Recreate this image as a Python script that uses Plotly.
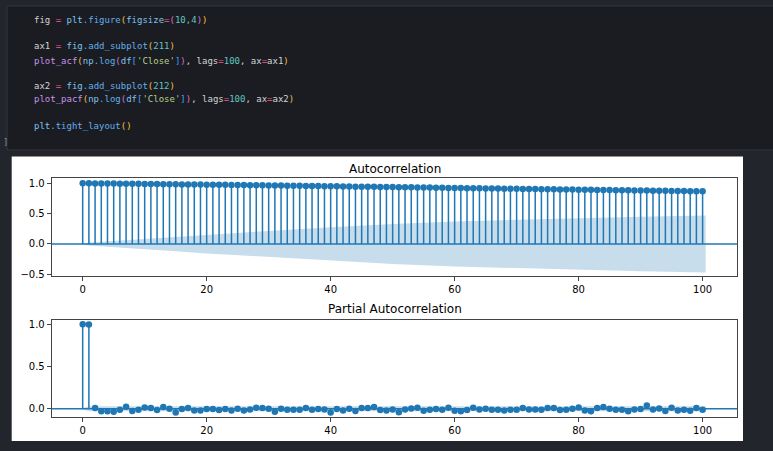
import plotly.graph_objects as go

# values
lags = list(range(101))

acf_vals = [
    1.000, 0.999, 0.997, 0.996, 0.995, 0.994, 0.993, 0.992, 0.991, 0.990,
    0.989, 0.987, 0.986, 0.985, 0.984, 0.983, 0.981, 0.980, 0.979, 0.978,
    0.977, 0.975, 0.974, 0.973, 0.971, 0.970, 0.969, 0.967, 0.966, 0.965,
    0.963, 0.962, 0.961, 0.959, 0.958, 0.957, 0.955, 0.954, 0.953, 0.951,
    0.950, 0.949, 0.947, 0.946, 0.944, 0.943, 0.942, 0.940, 0.939, 0.937,
    0.936, 0.935, 0.933, 0.932, 0.930, 0.929, 0.928, 0.926, 0.925, 0.923,
    0.922, 0.921, 0.919, 0.918, 0.916, 0.915, 0.914, 0.912, 0.911, 0.909,
    0.908, 0.907, 0.905, 0.904, 0.902, 0.901, 0.900, 0.898, 0.897, 0.895,
    0.894, 0.893, 0.891, 0.890, 0.889, 0.887, 0.886, 0.885, 0.883, 0.882,
    0.880, 0.879, 0.878, 0.876, 0.875, 0.873, 0.872, 0.871, 0.869, 0.868,
    0.866,
]

pacf_vals = [
    1.000, 0.998, 0.008, -0.030, -0.030, -0.035, -0.012, 0.023, -0.027, -0.012,
    0.016, 0.008, -0.016, 0.020, 0.000, -0.043, -0.004, 0.008, -0.020, -0.020,
    -0.004, -0.004, -0.016, -0.004, -0.020, 0.000, -0.020, -0.008, 0.012, 0.008,
    0.000, -0.035, 0.000, -0.012, -0.012, -0.012, 0.008, -0.012, -0.004, -0.008,
    -0.043, -0.004, -0.020, 0.000, -0.027, 0.008, 0.008, 0.020, -0.016, -0.020,
    -0.008, -0.040, -0.008, 0.004, 0.012, -0.023, -0.012, -0.004, -0.012, 0.012,
    -0.023, -0.030, -0.016, 0.012, -0.008, 0.000, -0.012, -0.012, -0.020, -0.012,
    -0.012, 0.008, -0.008, -0.008, -0.012, 0.008, 0.008, -0.016, -0.012, 0.000,
    0.016, -0.020, -0.030, 0.008, 0.020, 0.000, -0.012, -0.012, -0.030, -0.008,
    -0.004, 0.040, -0.008, 0.004, -0.027, 0.012, -0.020, -0.012, -0.023, 0.008,
    -0.012,
]

# confidence band half-widths
acf_band_lags = [-0.5, 1, 5, 10, 15, 20, 30, 40, 50, 60, 70, 80, 90, 100.5]
acf_band = [0.0, 0.025, 0.05, 0.085, 0.12, 0.155, 0.215, 0.275, 0.33, 0.37, 0.40, 0.425, 0.45, 0.47]
pacf_band_lags = [-0.5, 1, 100.5]
pacf_band = [0.0, 0.03, 0.03]

x_ticks = [0, 20, 40, 60, 80, 100]

W, H = 773, 451
C0 = '#1f77b4'
BAND = 'rgba(31,119,180,0.25)'
PAGE_BG = '#22252b'


def px(x):
    return x / W


def py(y):
    return 1 - y / H


def stems(xs, ys):
    sx, sy = [], []
    for x, y in zip(xs, ys):
        sx += [x, x, None]
        sy += [0, y, None]
    return sx, sy


def add_panel(fig, xa, ya, vals, band_lags, band):
    fig.add_trace(go.Scatter(
        x=band_lags + band_lags[::-1],
        y=band + [-b for b in band[::-1]],
        fill='toself', fillcolor=BAND, line={'width': 0},
        mode='lines', hoverinfo='skip', xaxis=xa, yaxis=ya))
    sx, sy = stems(lags, vals)
    fig.add_trace(go.Scatter(x=sx, y=sy, mode='lines', line={'color': C0, 'width': 1.5},
                             xaxis=xa, yaxis=ya))
    fig.add_trace(go.Scatter(x=lags, y=vals, mode='markers',
                             marker={'color': C0, 'size': 6.5, 'line': {'width': 0}},
                             xaxis=xa, yaxis=ya))
    fig.add_shape(type='line', xref=xa + ' domain', yref=ya, x0=0, x1=1, y0=0, y1=0,
                  line={'color': C0, 'width': 1.5})


fig = go.Figure()
add_panel(fig, 'x', 'y', acf_vals, acf_band_lags, acf_band)
add_panel(fig, 'x2', 'y2', pacf_vals, pacf_band_lags, pacf_band)

tick_font = {'family': 'DejaVu Sans', 'size': 10, 'color': '#000000'}
axis_common = dict(showgrid=False, zeroline=False, showline=True, mirror=True,
                   linecolor='#444444', linewidth=1, ticks='outside', ticklen=4,
                   tickcolor='#444444', tickfont=tick_font)

xdom = [px(51.7), px(737.3)]
fig.update_layout(
    width=W, height=H,
    margin={'l': 0, 'r': 0, 't': 0, 'b': 0},
    paper_bgcolor=PAGE_BG, plot_bgcolor='white',
    showlegend=False,
    xaxis=dict(domain=xdom, anchor='y', range=[-5.0, 105.6], tickvals=x_ticks, **axis_common),
    yaxis=dict(domain=[py(278.3), py(179.3)], anchor='x', range=[-0.531, 1.081],
               tickvals=[-0.5, 0.0, 0.5, 1.0], tickformat='.1f', **axis_common),
    xaxis2=dict(domain=xdom, anchor='y2', range=[-5.0, 105.6], tickvals=x_ticks, **axis_common),
    yaxis2=dict(domain=[py(420.7), py(322.7)], anchor='x2', range=[-0.098, 1.05],
                tickvals=[0.0, 0.5, 1.0], tickformat='.1f', **axis_common),
)

# notebook chrome: code cell and white figure area
fig.add_shape(type='rect', xref='paper', yref='paper', layer='below',
              x0=px(7), x1=px(790), y0=py(150.7), y1=py(5),
              fillcolor='#1b1c21', line={'color': '#34373e', 'width': 1})
fig.add_shape(type='rect', xref='paper', yref='paper', layer='below',
              x0=px(11.7), x1=px(743), y0=py(445), y1=py(157.3),
              fillcolor='white', line={'width': 0})

# code text with syntax colours
TXT = '#d4d4d4'
OP = '#f06292'
NAME = '#7cc4f0'
FUNC = '#61afef'
PUR = '#c792ea'
GOLD = '#f0c040'
PAREN = '#d670d6'
NUM = '#5fc4c0'
STR = '#b5cf8a'
BRK = '#3aa0ff'


def s(t, c):
    return '<span style="color:%s">%s</span>' % (c, t)


code_lines = [
    (19.0, s('fig', TXT) + s(' = ', OP) + s('plt', NAME) + s('.figure', FUNC) + s('(', GOLD)
     + s('figsize', NAME) + s('=', OP) + s('(', PAREN) + s('10,4', NUM) + s(')', PAREN) + s(')', GOLD)),
    (45.3, s('ax1', TXT) + s(' = ', OP) + s('fig', NAME) + s('.add_subplot', FUNC) + s('(', GOLD)
     + s('211', NUM) + s(')', GOLD)),
    (60.7, s('plot_acf', PUR) + s('(', GOLD) + s('np', NAME) + s('.log', FUNC) + s('(', PAREN)
     + s('df', NAME) + s('[', BRK) + s("'Close'", STR) + s(']', BRK) + s(')', PAREN) + s(', lags', TXT)
     + s('=', OP) + s('100', NUM) + s(', ax', TXT) + s('=', OP) + s('ax1', TXT) + s(')', GOLD)),
    (86.0, s('ax2', TXT) + s(' = ', OP) + s('fig', NAME) + s('.add_subplot', FUNC) + s('(', GOLD)
     + s('212', NUM) + s(')', GOLD)),
    (99.3, s('plot_pacf', PUR) + s('(', GOLD) + s('np', NAME) + s('.log', FUNC) + s('(', PAREN)
     + s('df', NAME) + s('[', BRK) + s("'Close'", STR) + s(']', BRK) + s(')', PAREN) + s(', lags', TXT)
     + s('=', OP) + s('100', NUM) + s(', ax', TXT) + s('=', OP) + s('ax2', TXT) + s(')', GOLD)),
    (126.0, s('plt', NAME) + s('.tight_layout', FUNC) + s('()', GOLD)),
]

for yy, txt in code_lines:
    fig.add_annotation(x=px(31.7), y=py(yy), xref='paper', yref='paper', text=txt,
                       showarrow=False, xanchor='left', yanchor='middle',
                       font={'family': 'DejaVu Sans Mono', 'size': 9, 'color': TXT})

fig.add_annotation(x=px(0.5), y=py(143), xref='paper', yref='paper', text=']',
                   showarrow=False, xanchor='left', yanchor='middle',
                   font={'family': 'DejaVu Sans Mono', 'size': 9, 'color': '#8a8f98'})

# panel titles
for title, yy in [('Autocorrelation', 170.0), ('Partial Autocorrelation', 311.5)]:
    fig.add_annotation(x=px(394.5), y=py(yy), xref='paper', yref='paper', text=title,
                       showarrow=False, xanchor='center', yanchor='middle',
                       font={'family': 'DejaVu Sans', 'size': 12, 'color': '#000000'})

# drop the browser's default body margin so the figure sits at the page corner
fig.write_html("out.html", config={'displayModeBar': False},
               post_script="document.body.style.margin='0';"
                           "document.body.style.background='%s';" % PAGE_BG)
